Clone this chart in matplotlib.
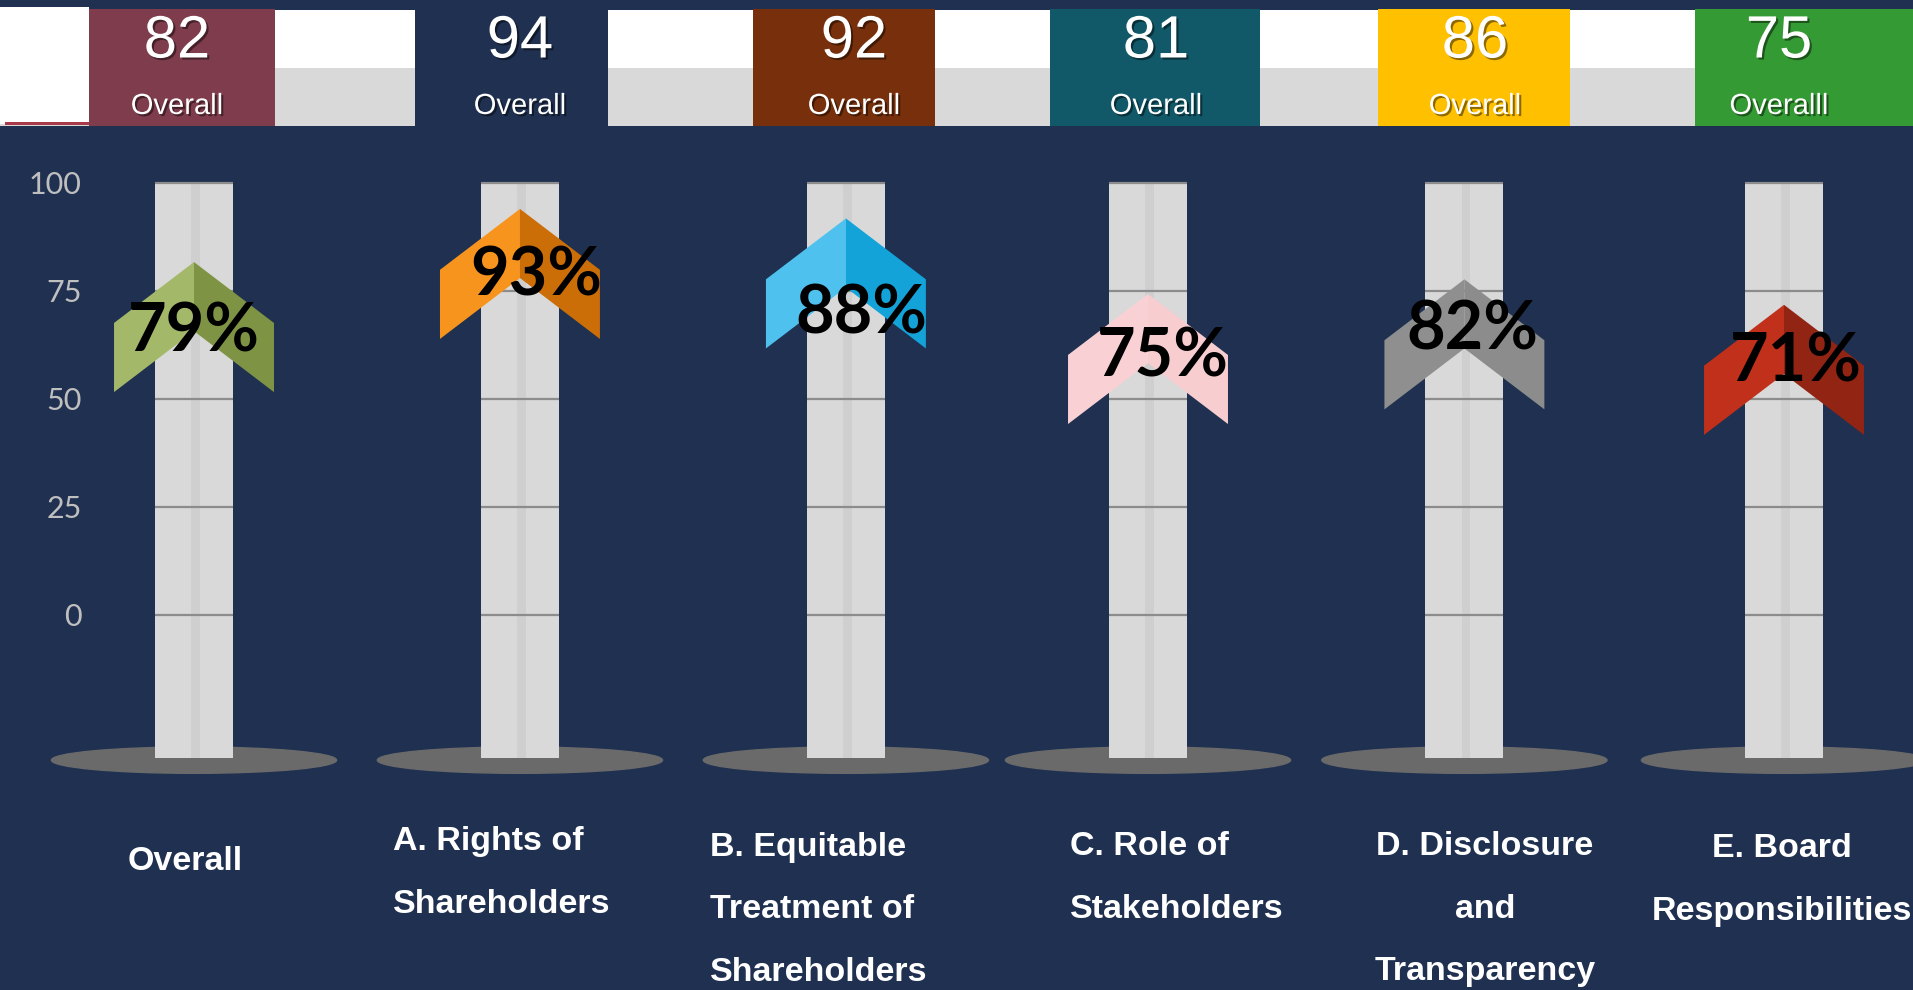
import matplotlib.pyplot as plt
import matplotlib.patheffects as pe
from matplotlib.patches import Ellipse, Polygon, Rectangle

# data
categories = [
    "Overall",
    "A. Rights of\nShareholders",
    "B. Equitable\nTreatment of\nShareholders",
    "C. Role of\nStakeholders",
    "D. Disclosure\nand\nTransparency",
    "E. Board\nResponsibilities",
]
scores = [79, 93, 88, 75, 82, 71]  # printed on the arrows
arrow_levels = [81.7, 94.0, 91.8, 74.3, 77.7, 71.8]  # tip of each arrow on the scale
overall_values = [82, 94, 92, 81, 86, 75]
overall_names = ["Overall", "Overall", "Overall", "Overall", "Overall", "Overalll"]
yticks = [0, 25, 50, 75, 100]

# styles
BG = "#1F3050"
arrow_light = ["#A4B86A", "#F7941D", "#4FC1EE", "#F9D1D4", "#8F8F8F", "#C0301A"]
arrow_dark = ["#7E9444", "#CC6E08", "#13A3D9", "#F7CDD0", "#8C8C8C", "#922414"]
box_colors = ["#7E3C4C", BG, "#78300C", "#115868", "#FFC000", "#349A34"]

# layout (pixels of the 1913x990 canvas)
W, H = 1913, 990
box_edges = [(89, 275), (415, 608), (753, 935), (1050, 1260), (1378, 1570), (1695, 1913)]
num_x = [177, 520, 854, 1156, 1475, 1779]
bar_x = [0, 1.025, 2.05, 3.0, 3.995, 5.0]
text_dx = [0, 16, 15, 15, 8, 12]  # px
text_dy = [16.4, 15.6, 22.3, 14.6, 11.9, 13.4]  # scale units below the tip
label_xy = [(185, 861), (502, 873), (819, 910), (1177, 878), (1485, 909), (1782, 880)]
label_align = ["center", "left", "left", "left", "center", "center"]

if __name__ == "__main__":
    fig = plt.figure(figsize=(W / 100, H / 100), dpi=100, facecolor=BG)

    # top strip with the overall scores
    top = fig.add_axes([0, 1 - 130 / H, 1, 130 / H])
    top.set_xlim(0, W)
    top.set_ylim(130, 0)
    top.axis("off")
    top.add_patch(Rectangle((0, 10), W, 58, color="white", lw=0))
    top.add_patch(Rectangle((0, 68), W, 58, color="#D9D9D9", lw=0))
    top.add_patch(Rectangle((0, 7), 89, 117, color="white", lw=0))
    top.add_patch(Rectangle((5, 122), 84, 3, color="#A83A4A", lw=0))
    shadow = [pe.withSimplePatchShadow(offset=(1.5, -1.5), shadow_rgbFace="black", alpha=0.45)]
    for (x0, x1), c, v, nm, nx in zip(box_edges, box_colors, overall_values, overall_names, num_x):
        top.add_patch(Rectangle((x0, 9), x1 - x0, 117, color=c, lw=0))
        top.text(nx, 42, str(v), ha="center", va="center", color="white", fontsize=43,
                 family="Liberation Sans", path_effects=shadow)
        top.text(nx, 106, nm, ha="center", va="center", color="white", fontsize=21,
                 family="Liberation Sans", path_effects=shadow)

    # thermometer panel, 4.32 px per point, 318 px per category
    ax = fig.add_axes([90 / W, 0, 1 - 90 / W, (H - 130) / H])
    ax.set_xlim((90 - 194) / 318, (W - 194) / 318)
    ax.set_ylim((615 - H) / 4.32, (615 - 130) / 4.32)
    ax.set_facecolor("none")
    for s in ax.spines.values():
        s.set_visible(False)
    ax.set_xticks([])
    ax.set_yticks(yticks)
    ax.tick_params(axis="y", length=0, pad=6, labelsize=22, labelcolor="#BFBFBF")
    for lbl in ax.get_yticklabels():
        lbl.set_fontfamily("Lato")

    base = -33.2
    top_val = max(yticks)
    bw = 0.245
    ax.bar(bar_x, top_val - base, bottom=base, width=bw, color="#D9D9D9", zorder=2)
    ax.bar([x + 0.005 for x in bar_x], top_val - base, bottom=base, width=0.026,
           color="#CFCFCF", zorder=3)
    for x in bar_x:
        ax.hlines(yticks, x - bw / 2, x + bw / 2, colors="#8C8C8C", lw=1.6, zorder=4)
        ax.add_patch(Ellipse((x, base - 0.4), 0.897, 6.1, color="#6A6A6A", zorder=1, clip_on=False))

    # chevron markers
    hw, rise, thick = 0.2515, 14.1, 16.0
    for i, (x, lvl) in enumerate(zip(bar_x, arrow_levels)):
        left = [(x - hw, lvl - rise), (x, lvl), (x, lvl - thick), (x - hw, lvl - rise - thick)]
        right = [(x + hw, lvl - rise), (x, lvl), (x, lvl - thick), (x + hw, lvl - rise - thick)]
        ax.add_patch(Polygon(left, closed=True, color=arrow_light[i], lw=0, zorder=5))
        ax.add_patch(Polygon(right, closed=True, color=arrow_dark[i], lw=0, zorder=5))
        ax.text(x + text_dx[i] / 318, lvl - text_dy[i], f"{scores[i]}%", ha="center",
                va="center", fontsize=48, fontweight="bold", family="Lato", color="black",
                zorder=6)

    # category names
    for name, (lx, ly), al in zip(categories, label_xy, label_align):
        fig.text(lx / W, 1 - ly / H, name, ha="center", va="center", multialignment=al,
                 color="white", fontsize=24.5, fontweight="bold", family="Liberation Sans",
                 linespacing=2.3)

    fig.savefig("out.png", dpi=100, facecolor=BG)
